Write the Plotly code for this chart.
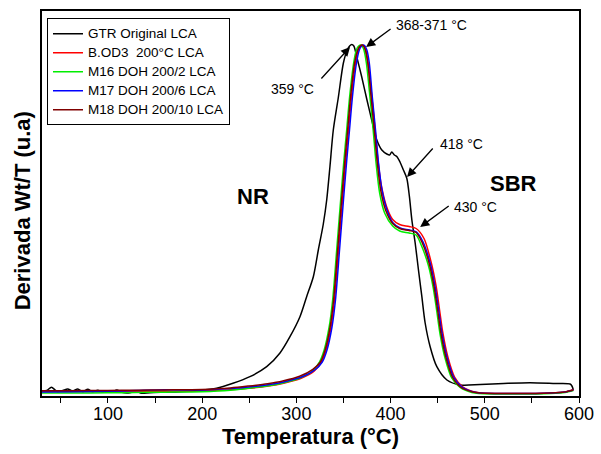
import plotly.graph_objects as go

# ---------------- data (Temperatura °C, derivada u.a.) ----------------
T_GTR = [30.7, 35, 40, 44, 46.7, 52, 57.3, 62.6, 68, 73.3, 78.6, 83.9, 89.2, 94.5, 98.8,
         104.1, 109.4, 114.7, 123.2, 129.6, 135.6, 144.5, 160, 176.3, 195, 215.3, 232.7,
         250.7, 268.5, 282.6, 293.2, 303.8, 310.9, 318, 323.3, 328.6, 332.2, 335.7, 339.2,
         344.6, 349.9, 354, 356.5, 358.8, 361, 364.1, 369.4, 374.7, 380, 385.4, 390.7, 396,
         399, 401.3, 404, 406.6, 410, 413.6, 417.2, 420, 422.6, 426.1, 429.6, 433.2, 436.7,
         442, 449.1, 459.8, 473.9, 495.1, 520, 548, 575, 590.5, 592.5, 594]
V_GTR = [5, 5.5, 8.7, 6, 4.3, 5.5, 7, 5, 7, 4.3, 6.7, 4.3, 5.7, 4, 5.3,
         3.7, 6, 3.7, 3.3, 5.3, 2.7, 3.3, 3.8, 4.3, 5.5, 7.7, 12.7,
         19.3, 29.3, 43, 59.3, 79.3, 99.3, 119.3, 146, 172, 196, 230, 266,
         299, 333, 346, 350, 351.5, 350, 339, 319, 297, 276, 256, 246, 242,
         241, 244, 241, 239.5, 234, 226, 217.7, 199.3, 176, 153, 126, 99.3, 73,
         49.3, 29.3, 16, 11, 11.5, 12.5, 13.3, 12.5, 12, 10, 6]

T_BOD3 = [30, 60, 100, 130, 160, 200, 230, 250.5, 270.5, 286.5, 304.5, 318.5, 326.5, 331.5,
          336.8, 340.5, 344.8, 349, 352.5, 355.4, 358.5, 362.8, 365.5, 367.5, 369.7, 371.5,
          373.5, 376.1, 380.1, 383.5, 386.7, 390.4, 395.7, 402.2, 409.6, 419.7, 427.1, 435.5,
          443, 448.3, 452, 455.5, 460.8, 467.9, 476.8, 489.2, 496.6, 530, 570, 585, 594]
V_BOD3 = [4.5, 4.5, 4.5, 4.5, 4.7, 5, 6.3, 7.7, 10, 12.8, 17.5, 24.5, 34, 46,
          69, 96, 146, 196, 236, 266, 299, 333, 346, 349.5, 351, 350,
          346, 333, 299, 267, 235, 209.5, 189.5, 176.5, 171.5, 169.5, 167.5, 157.5,
          134, 110, 86, 63, 39, 19, 9, 4, 3, 2.5, 3, 4, 6.5]

T_M16 = [30, 60, 100, 130, 160, 200, 230, 248.5, 268.5, 284.5, 302.5, 316.5, 324.5, 329.5,
         334.8, 338.5, 342.8, 347, 350.5, 353.4, 356.5, 360.8, 363.7, 365.7, 367.9, 369.7,
         371.7, 374.3, 378.1, 381.5, 384.7, 388.4, 393.7, 402.2, 409.6, 419.7, 427.1, 432.5,
         440, 445.3, 449, 452.5, 457.8, 464.9, 473.8, 486.2, 493.6, 530, 570, 585, 594]
V_M16 = [3, 3, 3.2, 3.5, 3.8, 4.3, 5.8, 7.7, 10, 12.8, 17.5, 24.5, 34, 46,
         69, 96, 146, 196, 236, 266, 299, 333, 346, 349.5, 351, 350,
         346, 333, 299, 266, 232, 203, 183, 170, 165, 163, 161, 151,
         131, 108, 85, 62, 38, 18, 8.5, 3.5, 2.5, 2, 2.5, 3.5, 5.5]

T_M17 = [30, 60, 100, 130, 160, 200, 230, 251.5, 271.5, 287.5, 305.5, 319.5, 327.5, 332.5,
         337.8, 341.5, 345.8, 350, 353.5, 356.4, 359.5, 363.8, 366.8, 368.8, 371, 372.8,
         374.8, 377.4, 380.6, 384, 387.2, 390.9, 396.2, 402.7, 410.1, 420.2, 427.6, 434.5,
         442, 447.3, 451, 454.5, 459.8, 466.9, 475.8, 488.2, 495.6, 530, 570, 585, 594]
V_M17 = [4, 4.3, 4.8, 5.5, 6.2, 6, 7.5, 9.2, 11.5, 14.3, 19, 26, 34, 46,
         69, 96, 146, 196, 236, 266, 299, 333, 346, 349.5, 351, 350,
         346, 333, 299, 266, 233, 206, 186, 173, 168, 166, 164, 154,
         133, 109, 86, 63, 39, 19, 9, 4, 3, 2.5, 3, 4, 6]

T_M18 = [30, 60, 100, 130, 160, 200, 230, 249.5, 269.5, 285.5, 303.5, 317.5, 325.5, 330.5,
         335.8, 339.5, 343.8, 348, 351.5, 354.4, 357.5, 361.8, 365.2, 367.2, 369.4, 371.2,
         373.2, 375.8, 379.3, 382.7, 385.9, 389.6, 394.9, 402.2, 409.6, 419.7, 427.1, 433.5,
         441, 446.3, 450, 453.5, 458.8, 465.9, 474.8, 487.2, 494.6, 530, 570, 585, 594]
V_M18 = [5.3, 5.3, 5.5, 5.8, 6.1, 6.6, 8.1, 10, 12.3, 15, 19.7, 26.7, 34, 46,
         69, 96, 146, 196, 236, 266, 299, 333, 346, 349.5, 351, 350,
         346, 333, 299, 266, 233, 205.5, 185.5, 172.5, 167.5, 165.5, 163.5, 153.5,
         132.5, 108.5, 85.5, 62.5, 38.5, 18.5, 8.5, 4, 3, 2.5, 3, 4, 6]

SERIES_NAMES = ["GTR Original LCA", "B.OD3\u00a0 200°C LCA", "M16 DOH 200/2 LCA",
                "M17 DOH 200/6 LCA", "M18 DOH 200/10 LCA"]
SERIES_COLORS = ["#000000", "#FF0000", "#00EE00", "#0000FF", "#800000"]
SERIES_X = [T_GTR, T_BOD3, T_M16, T_M17, T_M18]
SERIES_Y = [V_GTR, V_BOD3, V_M16, V_M17, V_M18]

X_TICKS = [100, 200, 300, 400, 500, 600]

FONT = "Liberation Sans, Arial, sans-serif"

fig = go.Figure()
for name, xs, ys, col in zip(SERIES_NAMES, SERIES_X, SERIES_Y, SERIES_COLORS):
    fig.add_trace(go.Scatter(x=xs, y=ys, mode="lines",
                             name=f'<span style="font-size:13.5px">{name}</span>',
                             line=dict(color=col, width=1.5, shape="spline", smoothing=0.8)))

# arrows (head x,y ; tail x,y) in data units
arrows = [
    (374.0, 349, 401.6, 368),
    (357.0, 349, 325.1, 316),
    (417.5, 219, 446.2, 249),
    (431.4, 169, 463.3, 191),
]
annotations = []
for hx, hy, tx, ty in arrows:
    annotations.append(dict(x=hx, y=hy, ax=tx, ay=ty, xref="x", yref="y", axref="x", ayref="y",
                            text="", showarrow=True, arrowhead=2, arrowsize=1.4, arrowwidth=1.3,
                            arrowcolor="black"))

labels = [
    ("368-371 °C", 403.7, 371, "left", 14, False),
    ("359 °C", 320.9, 307, "right", 14, False),
    ("418 °C", 449.8, 252, "left", 14, False),
    ("430 °C", 465.7, 189, "left", 14, False),
    ("NR", 253.9, 200, "center", 22, True),
    ("SBR", 503.6, 213, "left", 22, True),
]
for txt, x, y, anc, size, bold in labels:
    annotations.append(dict(x=x, y=y, xref="x", yref="y", text=f"<b>{txt}</b>" if bold else txt,
                            showarrow=False, xanchor=anc, yanchor="middle",
                            font=dict(size=size, color="black", family=FONT)))

# axis titles
annotations.append(dict(x=0.5, y=-0.104, xref="paper", yref="paper", text="<b>Temperatura (°C)</b>",
                        showarrow=False, xanchor="center", yanchor="middle",
                        font=dict(size=22, color="black", family=FONT)))
annotations.append(dict(x=-0.037, y=0.48, xref="paper", yref="paper", text="<b>Derivada Wt/T (u.a)</b>",
                        showarrow=False, xanchor="center", yanchor="middle", textangle=-90,
                        font=dict(size=22, color="black", family=FONT)))

fig.update_layout(
    width=601, height=454,
    margin=dict(l=42, r=22, t=11, b=58),
    paper_bgcolor="white", plot_bgcolor="white",
    font=dict(family=FONT, color="black"),
    showlegend=True,
    legend=dict(x=0.0093, y=0.981, xanchor="left", yanchor="top",
                bgcolor="white", bordercolor="black", borderwidth=1,
                font=dict(size=11.3, color="black", family=FONT),
                itemwidth=30, tracegroupgap=0),
    annotations=annotations,
    xaxis=dict(range=[30, 600], tickvals=X_TICKS, ticktext=[str(v) for v in X_TICKS],
               ticks="outside", ticklen=5, tickwidth=1.3, tickcolor="black",
               ticklabelstandoff=-4,
               showline=True, linecolor="black", linewidth=1.5, mirror=True,
               showgrid=False, zeroline=False, automargin=False,
               tickfont=dict(size=18, color="black", family=FONT),
               minor=dict(dtick=50, tick0=0, ticks="outside", ticklen=5, tickwidth=1.3,
                          tickcolor="black", showgrid=False)),
    yaxis=dict(range=[0, 385], showticklabels=False, ticks="",
               showline=True, linecolor="black", linewidth=1.5, mirror=True,
               showgrid=False, zeroline=False, automargin=False),
)

fig.write_html("out.html", config={"displayModeBar": False},
               post_script="document.body.style.margin='0';")
